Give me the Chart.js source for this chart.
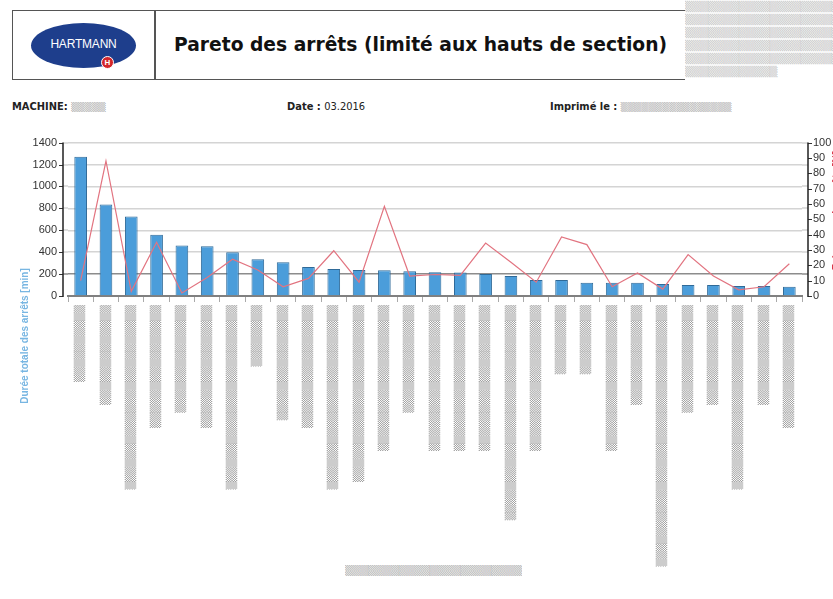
<!DOCTYPE html>
<html>
<head>
<meta charset="utf-8">
<script src="https://cdn.jsdelivr.net/npm/chart.js@4"></script>
<style>
  body { margin: 0; width: 833px; height: 599px; overflow: hidden; background: #fff; position: relative; font-family: "DejaVu Sans", sans-serif; }
  .head { position: absolute; left: 12px; top: 10px; width: 900px; height: 68px; border: 1.5px solid #555; }
  .divider { position: absolute; left: 141px; top: 0; width: 1.5px; height: 68px; background: #555; }
  .logo { position: absolute; left: 18px; top: 12px; width: 105px; height: 45px; border-radius: 50%; background: #1e3e8c;
          color: #fff; font: 12px "Liberation Sans", sans-serif; text-align: center; line-height: 43px; letter-spacing: -0.2px; }
  .cross { position: absolute; left: 88px; top: 45px; width: 11px; height: 11px; border-radius: 50%; background: #d3262b;
           border: 1.5px solid #fff; color: #fff; font: bold 8px "Liberation Sans", sans-serif; line-height: 11px; text-align: center; }
  .title { position: absolute; left: 174px; top: 34px; font: bold 18.7px "DejaVu Sans", sans-serif; color: #111; white-space: nowrap; }
  .mask { color: #b0b0b0; font: 10px "DejaVu Sans", sans-serif; white-space: nowrap; overflow: hidden; }
  .noise { position: absolute; left: 685px; top: 0; width: 148px; height: 80px; background: #fff; line-height: 13px; color: #c4c4c4; }
  .info { position: absolute; top: 100px; font: bold 11px "DejaVu Sans Condensed", "Liberation Sans Narrow", sans-serif; color: #222; white-space: nowrap; }
  .info span.v { font-weight: normal; }
  #wrap { position: absolute; left: 0; top: 125px; width: 833px; height: 475px; }
</style>
</head>
<body>
<div class="head">
  <div class="divider"></div>
  <div class="logo">HARTMANN</div>
  <div class="cross">H</div>
</div>
<div class="title">Pareto des arrêts (limité aux hauts de section)</div>
<div class="noise mask">
  ▒▒▒▒▒▒▒▒▒▒▒▒▒▒▒▒▒▒▒▒▒▒▒▒<br>▒▒▒▒▒▒▒▒▒▒▒▒▒▒▒▒▒▒▒▒▒▒▒▒<br>▒▒▒▒▒▒▒▒▒▒▒▒▒▒▒▒▒▒▒▒▒▒▒▒<br>▒▒▒▒▒▒▒▒▒▒▒▒▒▒▒▒▒▒▒▒▒▒▒▒<br>▒▒▒▒▒▒▒▒▒▒▒▒▒▒▒▒▒▒▒▒▒▒▒▒<br>▒▒▒▒▒▒▒▒▒▒▒▒
</div>
<div class="info" style="left:12px">MACHINE: <span class="mask" style="font-size:9px">▒▒▒▒▒</span></div>
<div class="info" style="left:287px">Date : <span class="v">03.2016</span></div>
<div class="info" style="left:550px">Imprimé le : <span class="mask" style="font-size:9px">▒▒▒▒▒▒▒▒▒▒▒▒▒▒▒▒</span></div>
<div class="mask" style="position:absolute;left:345px;top:565px;font-size:10px">▒▒▒▒▒▒▒▒▒▒▒▒▒▒▒▒▒▒▒▒▒▒▒</div>
<div id="wrap"><canvas id="pareto" width="833" height="475"></canvas></div>
<script>
// libellés masqués dans l'original : seule leur longueur (en caractères) est reprise
var maskLen = [10, 13, 24, 16, 14, 16, 24, 8, 15, 16, 24, 23, 19, 14, 19, 19, 19, 28, 19, 9, 9, 19, 13, 34, 14, 13, 24, 13, 16];
var categories = maskLen.map(function (n) { return '▒'.repeat(n); });

var dureeMin = [1270, 835, 725, 560, 460, 455, 400, 335, 308, 265, 247, 237, 236, 227, 217, 215, 200, 182, 145, 145, 121, 121, 121, 109, 100, 100, 92, 92, 85];
var pourcent = [10, 88, 3, 35, 2, 12, 24, 17, 6, 11.5, 29.5, 9, 58.5, 13, 14, 13.5, 34.5, 22, 9, 38.5, 33.5, 6, 15, 4.5, 27, 13, 4, 6, 21];

var leftTicks = [0, 200, 400, 600, 800, 1000, 1200, 1400];
var rightTicks = [0, 10, 20, 30, 40, 50, 60, 70, 80, 90, 100];

var leftTitle = 'Durée totale des arrêts [min]';
var rightTitle = 'Fréquence des arrêts [%]';

// axes verticaux décalés de quelques px par rapport à la zone de tracé, comme dans l'original
var axisLines = {
    id: 'axisLines',
    afterDraw: function (chart) {
        var c = chart.ctx, a = chart.chartArea;
        var yL = chart.scales.y, yR = chart.scales.y1;
        var xl = a.left - 5, xr = a.right + 6;
        c.save();
        leftTicks.forEach(function (v) {
            var py = Math.round(yL.getPixelForValue(v));
            if (v > 0) {
                c.strokeStyle = v === 200 ? '#8c8c8c' : '#d4d4d4';
                c.lineWidth = 1.5;
                c.beginPath(); c.moveTo(xl, py); c.lineTo(a.left, py); c.moveTo(a.right, py); c.lineTo(xr, py); c.stroke();
            }
            c.strokeStyle = '#333';
            c.lineWidth = 1;
            c.beginPath(); c.moveTo(xl - 4, py + 0.5); c.lineTo(xl, py + 0.5); c.stroke();
        });
        rightTicks.forEach(function (v) {
            var py = Math.round(yR.getPixelForValue(v)) + 0.5;
            c.strokeStyle = '#333';
            c.lineWidth = 1;
            c.beginPath(); c.moveTo(xr, py); c.lineTo(xr + 4, py); c.stroke();
        });
        c.strokeStyle = '#222';
        c.lineWidth = 1.5;
        c.beginPath();
        c.moveTo(xl, a.top); c.lineTo(xl, a.bottom + 1);
        c.moveTo(xr, a.top); c.lineTo(xr, a.bottom + 1);
        c.stroke();
        c.restore();

        c.save();
        c.font = 'bold 10px "Liberation Sans", sans-serif';
        c.fillStyle = '#78b6e2';
        c.textAlign = 'center';
        c.textBaseline = 'middle';
        c.translate(25, a.bottom + 40);
        c.rotate(-Math.PI / 2);
        c.fillText(leftTitle, 0, 0);
        c.restore();

        c.save();
        c.font = 'bold 10px "Liberation Sans", sans-serif';
        c.fillStyle = '#d9384a';
        c.textAlign = 'center';
        c.textBaseline = 'middle';
        c.translate(837, a.top + 68);
        c.rotate(-Math.PI / 2);
        c.fillText(rightTitle, 0, 0);
        c.restore();
    }
};

var ctx = document.getElementById('pareto').getContext('2d');
var chart = new Chart(ctx, {
    type: 'bar',
    data: {
        labels: categories,
        datasets: [{
            type: 'line',
            data: pourcent,
            yAxisID: 'y1',
            borderColor: '#e27480',
            borderWidth: 1.2,
            pointRadius: 0,
            tension: 0,
            order: 0
        }, {
            data: dureeMin,
            yAxisID: 'y',
            backgroundColor: '#4b9dda',
            borderColor: '#2f6a98',
            borderWidth: 1,
            barPercentage: 0.5,
            categoryPercentage: 1,
            order: 1
        }]
    },
    options: {
        responsive: false,
        animation: false,
        devicePixelRatio: 1,
        layout: { padding: { top: 7, left: 0, right: 0, bottom: 0 } },
        scales: {
            x: {
                afterFit: function (scale) { scale.height = 304; },
                grid: { drawOnChartArea: false, tickLength: 6, color: '#aaa' },
                border: { color: '#808080', width: 2 },
                ticks: {
                    autoSkip: false,
                    minRotation: 90,
                    maxRotation: 90,
                    padding: 3,
                    color: '#a0a0a0',
                    font: { family: 'DejaVu Sans', size: 10 }
                }
            },
            y: {
                position: 'left',
                min: 0,
                max: 1400,
                afterFit: function (scale) { scale.width = 68; },
                afterBuildTicks: function (scale) { scale.ticks = leftTicks.map(function (v) { return { value: v }; }); },
                grid: {
                    color: function (c) { return c.tick && c.tick.value === 200 ? '#8c8c8c' : '#d4d4d4'; },
                    lineWidth: 1.5,
                    drawTicks: false
                },
                border: { display: false },
                ticks: {
                    padding: 11,
                    color: '#333',
                    font: { family: 'Liberation Sans', size: 11 },
                    callback: function (v) { return String(v); }
                }
            },
            y1: {
                position: 'right',
                min: 0,
                max: 100,
                afterFit: function (scale) { scale.width = 31; },
                afterBuildTicks: function (scale) { scale.ticks = rightTicks.map(function (v) { return { value: v }; }); },
                grid: { drawOnChartArea: false, drawTicks: false },
                border: { display: false },
                ticks: {
                    autoSkip: false,
                    padding: 11,
                    color: '#333',
                    font: { family: 'Liberation Sans', size: 11 },
                    callback: function (v) { return String(v); }
                }
            }
        },
        plugins: {
            legend: { display: false },
            tooltip: { enabled: false }
        }
    },
    plugins: [axisLines]
});
</script>
</body>
</html>
